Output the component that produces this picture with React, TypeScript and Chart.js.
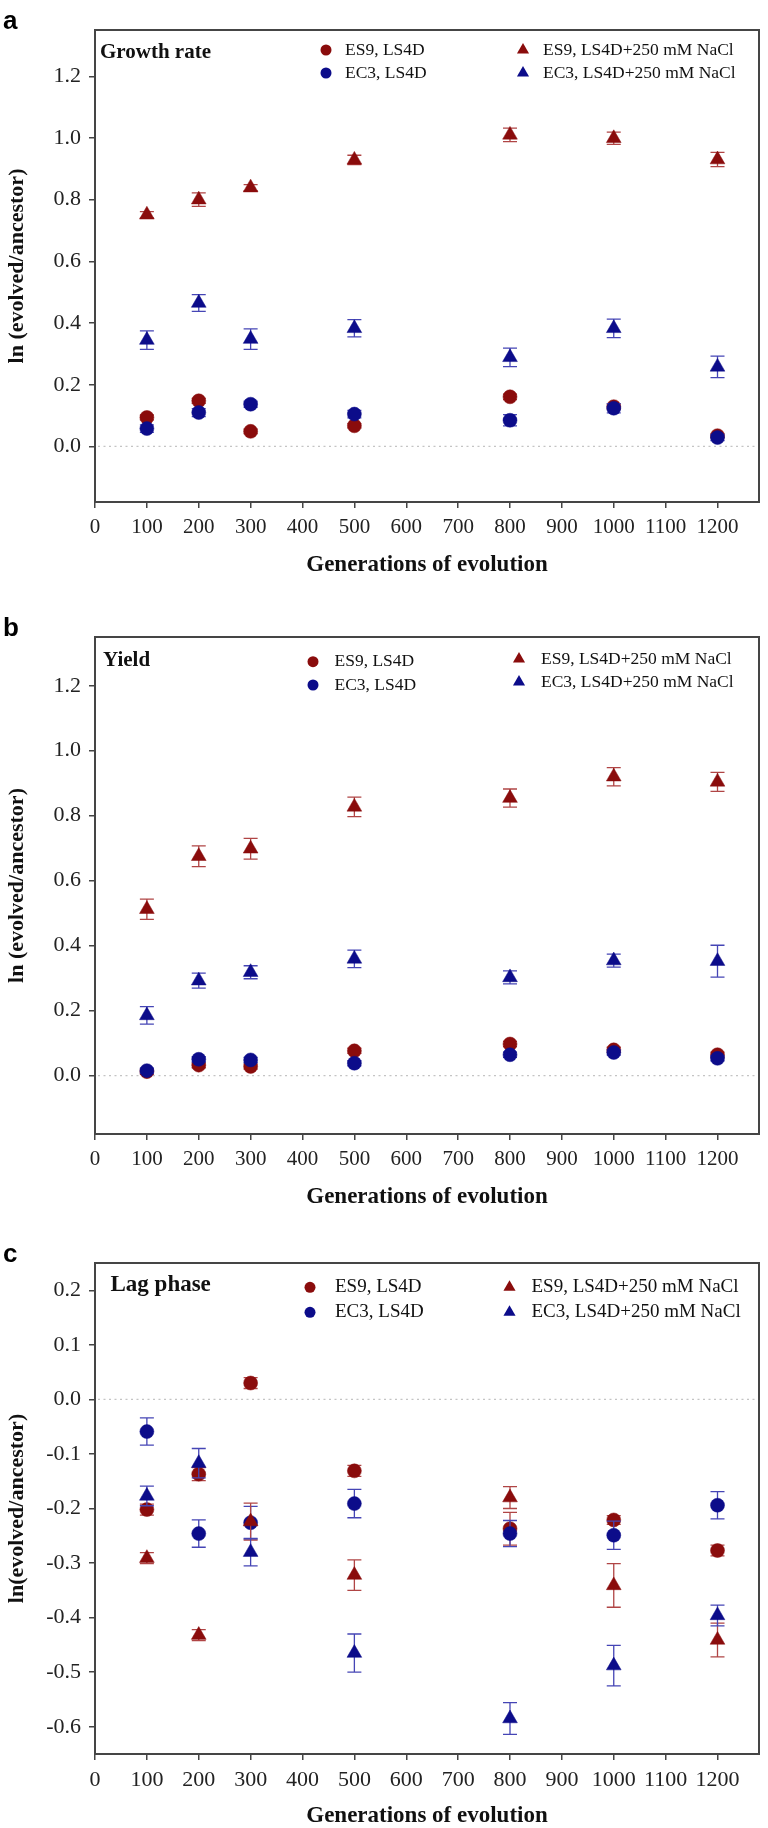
import { useEffect, useRef } from 'react';
import { Chart, registerables } from 'chart.js';

Chart.register(...registerables);

// ---------- data ----------
const generations = [100, 200, 300, 500, 800, 1000, 1200];
const xTickValues = [0, 100, 200, 300, 400, 500, 600, 700, 800, 900, 1000, 1100, 1200];
const seriesLabels = ['ES9, LS4D', 'EC3, LS4D', 'ES9, LS4D+250 mM NaCl', 'EC3, LS4D+250 mM NaCl'];

// (a) Growth rate
const growthES9 = [0.094, 0.148, 0.049, 0.067, 0.161, 0.129, 0.035];
const growthES9Err = [0.008, 0.008, 0.007, 0.007, 0.009, 0.009, 0.006];
const growthEC3 = [0.058, 0.110, 0.137, 0.105, 0.085, 0.124, 0.029];
const growthEC3Err = [0.012, 0.013, 0.010, 0.012, 0.018, 0.015, 0.010];
const growthES9NaCl = [0.751, 0.800, 0.839, 0.929, 1.010, 0.999, 0.930];
const growthES9NaClErr = [0.010, 0.022, 0.010, 0.015, 0.022, 0.020, 0.023];
const growthEC3NaCl = [0.345, 0.465, 0.348, 0.383, 0.289, 0.383, 0.258];
const growthEC3NaClErr = [0.030, 0.027, 0.033, 0.028, 0.030, 0.030, 0.035];
const growthYTicks = [0.0, 0.2, 0.4, 0.6, 0.8, 1.0, 1.2];

// (b) Yield
const yieldES9 = [0.012, 0.032, 0.028, 0.076, 0.097, 0.079, 0.064];
const yieldES9Err = [0.008, 0.008, 0.008, 0.008, 0.008, 0.008, 0.008];
const yieldEC3 = [0.015, 0.050, 0.048, 0.038, 0.064, 0.071, 0.053];
const yieldEC3Err = [0.008, 0.008, 0.008, 0.008, 0.008, 0.008, 0.008];
const yieldES9NaCl = [0.512, 0.675, 0.698, 0.827, 0.854, 0.920, 0.904];
const yieldES9NaClErr = [0.031, 0.032, 0.032, 0.030, 0.028, 0.028, 0.029];
const yieldEC3NaCl = [0.185, 0.292, 0.318, 0.359, 0.302, 0.354, 0.352];
const yieldEC3NaClErr = [0.027, 0.023, 0.020, 0.027, 0.020, 0.020, 0.049];
const yieldYTicks = [0.0, 0.2, 0.4, 0.6, 0.8, 1.0, 1.2];

// (c) Lag phase
const lagES9 = [-0.202, -0.137, 0.030, -0.131, -0.237, -0.221, -0.277];
const lagES9Err = [0.010, 0.012, 0.010, 0.010, 0.030, 0.008, 0.010];
const lagEC3 = [-0.059, -0.246, -0.226, -0.191, -0.246, -0.249, -0.194];
const lagEC3Err = [0.025, 0.025, 0.030, 0.026, 0.024, 0.026, 0.025];
const lagES9NaCl = [-0.291, -0.432, -0.224, -0.322, -0.180, -0.341, -0.441];
const lagES9NaClErr = [0.010, 0.010, 0.034, 0.028, 0.020, 0.040, 0.031];
const lagEC3NaCl = [-0.177, -0.117, -0.280, -0.465, -0.585, -0.488, -0.396];
const lagEC3NaClErr = [0.018, 0.027, 0.025, 0.035, 0.029, 0.037, 0.019];
const lagYTicks = [-0.6, -0.5, -0.4, -0.3, -0.2, -0.1, 0.0, 0.1, 0.2];

// ---------- styles ----------
const RED = '#8a0c0c';
const BLUE = '#0c0c8a';
const RED_ERR = '#b04545';
const BLUE_ERR = '#4545b5';
const SERIF = "'Liberation Serif', 'Times New Roman', serif";
const SANS = "'Liberation Sans', Arial, sans-serif";
const seriesColors = [RED, BLUE, RED, BLUE];
const seriesErrColors = [RED_ERR, BLUE_ERR, RED_ERR, BLUE_ERR];
const seriesShapes = ['circle', 'circle', 'triangle', 'triangle'];

function drawMarker(ctx: CanvasRenderingContext2D, shape: string, x: number, y: number, r: number, color: string) {
  ctx.save();
  ctx.fillStyle = color;
  ctx.beginPath();
  if (shape === 'circle') {
    ctx.arc(x, y, r, 0, Math.PI * 2);
  } else {
    for (let k = 0; k < 3; k++) {
      const a = (k * 2 * Math.PI) / 3;
      const px = x + Math.sin(a) * r;
      const py = y - Math.cos(a) * r;
      if (k === 0) ctx.moveTo(px, py);
      else ctx.lineTo(px, py);
    }
    ctx.closePath();
  }
  ctx.fill();
  ctx.restore();
}

const decorPlugin = {
  id: 'panelDecor',
  beforeDatasetsDraw(chart: any) {
    const { ctx, chartArea, scales } = chart;
    const y0 = scales.y.getPixelForValue(0);
    ctx.save();
    ctx.strokeStyle = '#c4c4c4';
    ctx.lineWidth = 1.3;
    ctx.setLineDash([2, 3.5]);
    ctx.beginPath();
    ctx.moveTo(chartArea.left + 3, y0);
    ctx.lineTo(chartArea.right - 3, y0);
    ctx.stroke();
    ctx.restore();
  },
  beforeDatasetDraw(chart: any, args: any) {
    const { ctx, scales } = chart;
    const ds = chart.data.datasets[args.index];
    const errs: number[] = ds.errors || [];
    ctx.save();
    ctx.strokeStyle = ds.errColor;
    ctx.lineWidth = 1.3;
    ds.data.forEach((p: any, i: number) => {
      const e = errs[i] || 0;
      const x = scales.x.getPixelForValue(p.x);
      const yt = scales.y.getPixelForValue(p.y + e);
      const yb = scales.y.getPixelForValue(p.y - e);
      ctx.beginPath();
      ctx.moveTo(x, yt);
      ctx.lineTo(x, yb);
      ctx.moveTo(x - 7, yt);
      ctx.lineTo(x + 7, yt);
      ctx.moveTo(x - 7, yb);
      ctx.lineTo(x + 7, yb);
      ctx.stroke();
    });
    ctx.restore();
  },
  afterDraw(chart: any) {
    const { ctx, chartArea } = chart;
    const o = chart.options.plugins.panelDecor;
    ctx.save();
    // frame
    ctx.strokeStyle = '#454545';
    ctx.lineWidth = 2;
    ctx.strokeRect(chartArea.left, chartArea.top, chartArea.right - chartArea.left, chartArea.bottom - chartArea.top);
    // panel letter
    ctx.fillStyle = '#000';
    ctx.font = `bold 26px ${SANS}`;
    ctx.textAlign = 'left';
    ctx.textBaseline = 'alphabetic';
    ctx.fillText(o.letter, 3, chartArea.top - 1);
    // inner title
    ctx.fillStyle = '#111';
    ctx.font = `bold ${o.titleSize}px ${SERIF}`;
    ctx.textBaseline = 'middle';
    ctx.fillText(o.title, chartArea.left + o.titleDx, chartArea.top + o.titleDy);
    // legend
    ctx.font = `${o.legendSize}px ${SERIF}`;
    o.legend.forEach((it: any, i: number) => {
      const mx = chartArea.left + it.mx;
      const my = chartArea.top + it.y;
      drawMarker(ctx, seriesShapes[i], mx, my, seriesShapes[i] === 'circle' ? 5.5 : 7, seriesColors[i]);
      ctx.fillStyle = '#111';
      ctx.fillText(seriesLabels[i], chartArea.left + it.tx, my);
    });
    ctx.restore();
  },
};

type PanelSpec = {
  letter: string;
  title: string;
  titleSize: number;
  titleDx: number;
  titleDy: number;
  legendSize: number;
  legend: { mx: number; tx: number; y: number }[];
  values: number[][];
  errors: number[][];
  yMin: number;
  yMax: number;
  yTicks: number[];
  yTitle: string;
  height: number;
  padTop: number;
  padRight: number;
  xAxisHeight: number;
  xTitlePad: number;
  tickSize: number;
};

function buildConfig(spec: PanelSpec): any {
  const datasets = spec.values.map((vals, si) => ({
    label: seriesLabels[si],
    data: generations.map((g, i) => ({ x: g, y: vals[i] })),
    errors: spec.errors[si],
    errColor: seriesErrColors[si],
    pointStyle: seriesShapes[si],
    pointRadius: seriesShapes[si] === 'circle' ? 7 : 8.5,
    backgroundColor: seriesColors[si],
    borderColor: seriesColors[si],
    borderWidth: 0.5,
    showLine: false,
    order: 3 - si,
  }));
  return {
    type: 'scatter',
    data: { datasets },
    plugins: [decorPlugin],
    options: {
      responsive: false,
      animation: false,
      events: [],
      layout: { padding: { top: spec.padTop, right: spec.padRight, left: 0, bottom: 0 } },
      plugins: {
        legend: { display: false },
        tooltip: { enabled: false },
        panelDecor: {
          letter: spec.letter,
          title: spec.title,
          titleSize: spec.titleSize,
          titleDx: spec.titleDx,
          titleDy: spec.titleDy,
          legendSize: spec.legendSize,
          legend: spec.legend,
        },
      },
      scales: {
        x: {
          type: 'linear',
          min: 0,
          max: 1280,
          afterBuildTicks: (s: any) => {
            s.ticks = xTickValues.map((v) => ({ value: v }));
          },
          afterFit: (s: any) => {
            s.height = spec.xAxisHeight;
          },
          grid: { display: true, drawOnChartArea: false, drawTicks: true, tickLength: 6, color: '#454545', lineWidth: 1.5 },
          border: { display: false },
          ticks: {
            padding: 7,
            maxRotation: 0,
            autoSkip: false,
            color: '#222',
            font: { family: SERIF, size: spec.tickSize },
            callback: (v: any) => String(v),
          },
          title: {
            display: true,
            text: 'Generations of evolution',
            color: '#111',
            font: { family: SERIF, size: 23, weight: 'bold', lineHeight: 1 },
            padding: { top: 0, bottom: spec.xTitlePad },
          },
        },
        y: {
          type: 'linear',
          min: spec.yMin,
          max: spec.yMax,
          afterBuildTicks: (s: any) => {
            s.ticks = spec.yTicks.map((v) => ({ value: v }));
          },
          afterFit: (s: any) => {
            s.width = 95;
          },
          grid: { display: true, drawOnChartArea: false, drawTicks: true, tickLength: 6, color: '#454545', lineWidth: 1.5 },
          border: { display: false },
          ticks: {
            padding: 8,
            color: '#222',
            font: { family: SERIF, size: 22 },
            callback: (v: any) => Number(v).toFixed(1),
          },
          title: {
            display: true,
            text: spec.yTitle,
            color: '#111',
            font: { family: SERIF, size: 22, weight: 'bold', lineHeight: 1 },
            padding: { top: 6, bottom: 0 },
          },
        },
      },
    },
  };
}

const panelA: PanelSpec = {
  letter: 'a',
  title: 'Growth rate',
  titleSize: 21,
  titleDx: 5,
  titleDy: 23,
  legendSize: 17.5,
  legend: [
    { mx: 231, tx: 250, y: 20 },
    { mx: 231, tx: 250, y: 43 },
    { mx: 428, tx: 448, y: 20 },
    { mx: 428, tx: 448, y: 43 },
  ],
  values: [growthES9, growthEC3, growthES9NaCl, growthEC3NaCl],
  errors: [growthES9Err, growthEC3Err, growthES9NaClErr, growthEC3NaClErr],
  yMin: -0.18,
  yMax: 1.35,
  yTicks: growthYTicks,
  yTitle: 'ln (evolved/ancestor)',
  height: 610,
  padTop: 30,
  padRight: 4,
  xAxisHeight: 108,
  xTitlePad: 33.5,
  tickSize: 21,
};

const panelB: PanelSpec = {
  letter: 'b',
  title: 'Yield',
  titleSize: 21,
  titleDx: 8,
  titleDy: 24,
  legendSize: 17.5,
  legend: [
    { mx: 218, tx: 239.5, y: 24.7 },
    { mx: 218, tx: 239.5, y: 48 },
    { mx: 424, tx: 446, y: 22 },
    { mx: 424, tx: 446, y: 45 },
  ],
  values: [yieldES9, yieldEC3, yieldES9NaCl, yieldEC3NaCl],
  errors: [yieldES9Err, yieldEC3Err, yieldES9NaClErr, yieldEC3NaClErr],
  yMin: -0.18,
  yMax: 1.35,
  yTicks: yieldYTicks,
  yTitle: 'ln (evolved/ancestor)',
  height: 610,
  padTop: 27,
  padRight: 4,
  xAxisHeight: 86,
  xTitlePad: 11.5,
  tickSize: 21,
};

const panelC: PanelSpec = {
  letter: 'c',
  title: 'Lag phase',
  titleSize: 23,
  titleDx: 15.5,
  titleDy: 22.3,
  legendSize: 19,
  legend: [
    { mx: 215, tx: 240, y: 24.3 },
    { mx: 215, tx: 240, y: 49.3 },
    { mx: 414.5, tx: 436.5, y: 24.3 },
    { mx: 414.5, tx: 436.5, y: 49.3 },
  ],
  values: [lagES9, lagEC3, lagES9NaCl, lagEC3NaCl],
  errors: [lagES9Err, lagEC3Err, lagES9NaClErr, lagEC3NaClErr],
  yMin: -0.65,
  yMax: 0.25,
  yTicks: lagYTicks,
  yTitle: 'ln(evolved/ancestor)',
  height: 608,
  padTop: 43,
  padRight: 6.5,
  xAxisHeight: 74,
  xTitlePad: 0,
  tickSize: 22,
};

function Panel({ spec, top }: { spec: PanelSpec; top: number }) {
  const ref = useRef<HTMLCanvasElement | null>(null);
  useEffect(() => {
    if (!ref.current) return;
    const chart = new Chart(ref.current, buildConfig(spec));
    return () => chart.destroy();
  }, [spec]);
  return (
    <canvas
      ref={ref}
      width={768}
      height={spec.height}
      style={{ position: 'absolute', left: 0, top, width: 768, height: spec.height, display: 'block' }}
    />
  );
}

export default function App() {
  return (
    <div style={{ position: 'absolute', left: 0, top: 0, width: 768, height: 1828, background: '#fff', overflow: 'hidden' }}>
      <Panel spec={panelA} top={0} />
      <Panel spec={panelB} top={610} />
      <Panel spec={panelC} top={1220} />
    </div>
  );
}
